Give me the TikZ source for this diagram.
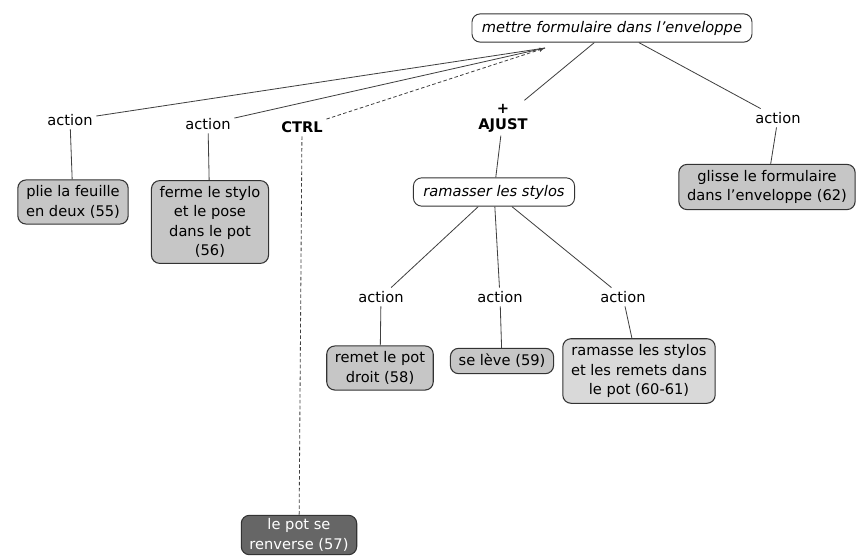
\documentclass[tikz,border=0pt]{standalone}
\usepackage{fontspec}
\setmainfont{DejaVu Sans}
\usetikzlibrary{arrows}
\usetikzlibrary{positioning}

\begin{document}
\begin{tikzpicture}[
    x=0.03cm, y=-0.03cm,
    font=\fontsize{12.5}{16.5}\selectfont,
    concept/.style={draw=black!80, line width=0.8pt, rounded corners=7pt, fill=white,
        font=\fontsize{12.5}{16.5}\selectfont\itshape, inner xsep=8.5pt, inner ysep=6pt},
    leaf/.style={draw=black!80, line width=0.9pt, rounded corners=7pt, fill=gray!45,
        align=center, inner xsep=7pt, inner ysep=5pt},
    link/.style={draw=black!75, line width=0.7pt},
    linkword/.style={inner sep=3pt}]

    \useasboundingbox (0,0) rectangle (857,556);

    % main concept
    \node[concept] (top) at (612,28) {mettre formulaire dans l'enveloppe};
    \coordinate (topin) at (545,48);

    % link words
    \node[linkword] (act1) at (70,120) {action};
    \node[linkword] (act2) at (208,124) {action};
    \node[linkword, font=\fontsize{12.5}{15.5}\selectfont\bfseries] (ctrl) at (302,127) {CTRL};
    \node[linkword, align=center, font=\fontsize{12.5}{13.5}\selectfont\bfseries] (ajust) at (503,118) {+\\AJUST};
    \node[linkword] (act3) at (778,118) {action};

    % sub concept
    \node[concept] (ram) at (494,192) {ramasser les stylos};
    \node[linkword] (act4) at (381,297) {action};
    \node[linkword] (act5) at (500,297) {action};
    \node[linkword] (act6) at (623,297) {action};

    % actions
    \node[leaf] (leaf55) at (73,202) {plie la feuille\\en deux (55)};
    \node[leaf] (leaf56) at (210,222) {ferme le stylo\\et le pose\\dans le pot\\(56)};
    \node[leaf] (leaf62) at (767,187) {glisse le formulaire\\dans l'enveloppe (62)};
    \node[leaf] (leaf58) at (380,368) {remet le pot\\droit (58)};
    \node[leaf] (leaf59) at (502,361) {se lève (59)};
    \node[leaf, fill=gray!30] (leaf60) at (639,371) {ramasse les stylos\\et les remets dans\\le pot (60-61)};
    \node[leaf, fill=black!60, text=white, inner ysep=3pt] (leaf57) at (299,535) {le pot se\\renverse (57)};

    % links to main concept
    \draw[link] (act1) -- (topin);
    \draw[link] (act2) -- (topin);
    \draw[link, densely dashed, -latex] (ctrl) -- (topin);
    \draw[link] (top) -- (ajust);
    \draw[link] (top) -- (act3);

    % links down
    \draw[link] (act1) -- (leaf55);
    \draw[link] (act2) -- (leaf56);
    \draw[link, densely dashed] (ctrl) -- (leaf57);
    \draw[link] (act3) -- (leaf62);
    \draw[link] (ajust) -- (ram);
    \draw[link] (ram) -- (act4);
    \draw[link] (ram) -- (act5);
    \draw[link] (ram) -- (act6);
    \draw[link] (act4) -- (leaf58);
    \draw[link] (act5) -- (leaf59);
    \draw[link] (act6) -- (leaf60);

\end{tikzpicture}
\end{document}
